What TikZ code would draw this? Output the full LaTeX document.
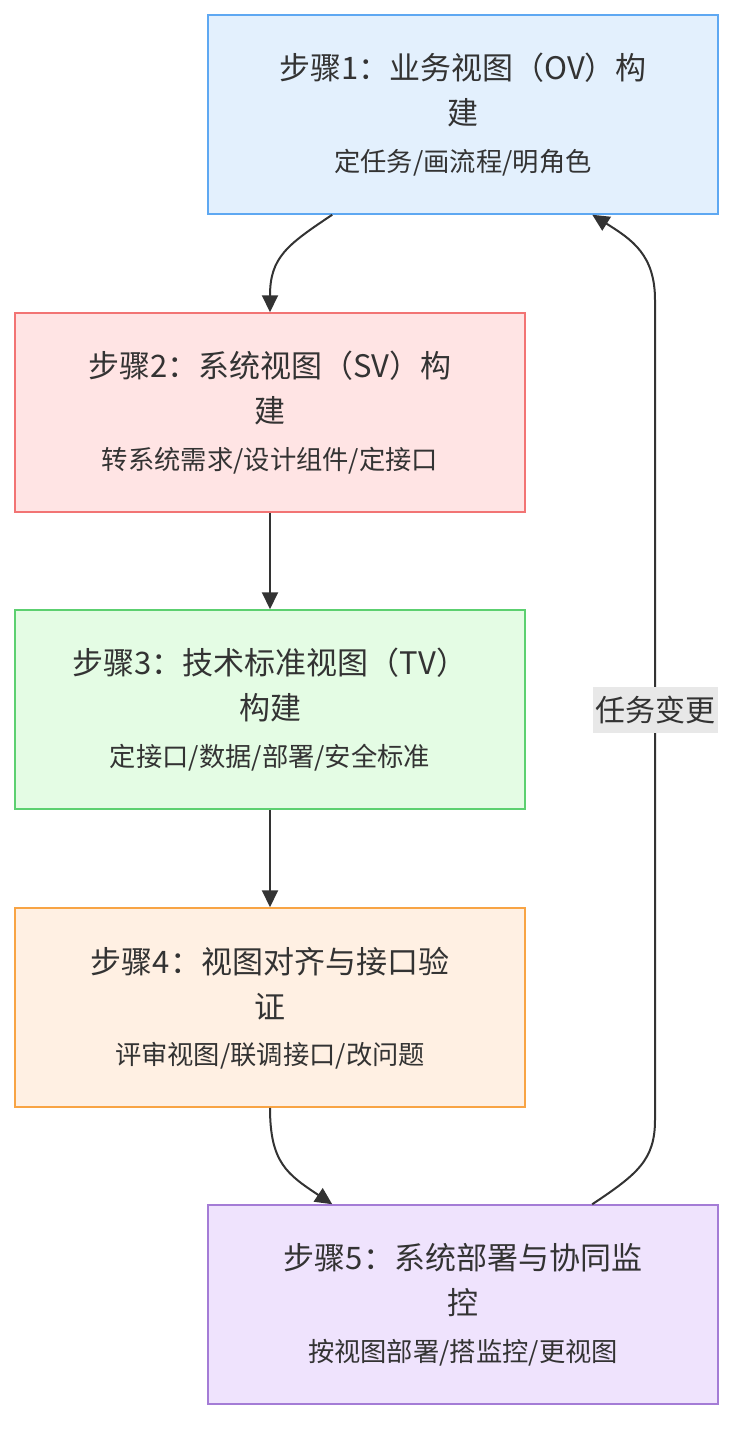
\documentclass[tikz,border=0pt]{standalone}
\usepackage{fontspec}
\setmainfont{Noto Sans CJK SC}
\usetikzlibrary{arrows.meta,calc}
\definecolor{txt}{HTML}{333333}
\definecolor{f1}{HTML}{E3F0FD}\definecolor{s1}{HTML}{5EA8F2}
\definecolor{f2}{HTML}{FFE4E4}\definecolor{s2}{HTML}{F27474}
\definecolor{f3}{HTML}{E4FCE4}\definecolor{s3}{HTML}{5CD070}
\definecolor{f4}{HTML}{FFF0E3}\definecolor{s4}{HTML}{F8A444}
\definecolor{f5}{HTML}{EFE3FD}\definecolor{s5}{HTML}{A47CD6}
\definecolor{lbl}{HTML}{E8E8E8}
\tikzset{
  stepbox/.style={draw, line width=1.5pt, minimum width=510pt, minimum height=199pt, inner sep=0pt},
  ttl/.style={text=txt, align=center, font=\fontsize{31}{45}\selectfont, inner sep=0pt},
  sub/.style={text=txt, align=center, font=\fontsize{26.3}{30}\selectfont, inner sep=0pt},
  conn/.style={draw=txt, line width=2pt, -{Triangle[length=17pt,width=16pt]}},
  elabel/.style={fill=lbl, text=txt, font=\fontsize{30}{30}\selectfont, inner sep=0pt, minimum width=125pt, minimum height=46pt}
}
\begin{document}
\begin{tikzpicture}[x=1pt,y=-1pt]
\useasboundingbox (0,0) rectangle (750,1452);
% boxes
\node[stepbox, fill=f1, draw=s1] (b1) at (463,114.5) {};
\node[stepbox, fill=f2, draw=s2] (b2) at (270,412.5) {};
\node[stepbox, fill=f3, draw=s3] (b3) at (270,709.5) {};
\node[stepbox, fill=f4, draw=s4] (b4) at (270,1007.5) {};
\node[stepbox, fill=f5, draw=s5] (b5) at (463,1304.5) {};
% texts
\node[ttl] (t1) at ($(b1.north)+(0,76)$) {步骤1：业务视图（OV）构\\建};
\node[sub] (u1) at ($(b1.north)+(0,148)$) {定任务/画流程/明角色};
\node[ttl] (t2) at ($(b2.north)+(0,76)$) {步骤2：系统视图（SV）构\\建};
\node[sub] (u2) at ($(b2.north)+(0,148)$) {转系统需求/设计组件/定接口};
\node[ttl] (t3) at ($(b3.north)+(0,76)$) {步骤3：技术标准视图（TV）\\构建};
\node[sub] (u3) at ($(b3.north)+(0,148)$) {定接口/数据/部署/安全标准};
\node[ttl] (t4) at ($(b4.north)+(0,76)$) {步骤4：视图对齐与接口验\\证};
\node[sub] (u4) at ($(b4.north)+(0,148)$) {评审视图/联调接口/改问题};
\node[ttl] (t5) at ($(b5.north)+(0,76)$) {步骤5：系统部署与协同监\\控};
\node[sub] (u5) at ($(b5.north)+(0,148)$) {按视图部署/搭监控/更视图};
% connectors
\coordinate (a1) at ($(b1.south west)+(125,0)$);
\draw[conn] (a1) .. controls ($(a1)+(-45,30)$) and ($(b2.north)+(0,-55)$) .. (b2.north);
\draw[conn] (b2.south) -- (b3.north);
\draw[conn] (b3.south) -- (b4.north);
\coordinate (a5) at ($(b5.north west)+(125,0)$);
\draw[conn] (b4.south) .. controls ($(b4.south)+(0,55)$) and ($(a5)+(-45,-30)$) .. (a5);
\coordinate (r5) at ($(b5.north west)+(385,0)$);
\coordinate (r1) at ($(b1.south west)+(385,0)$);
\coordinate (v1) at (655,1120);
\coordinate (v2) at (655,300);
\draw[conn] (r5) .. controls ($(r5)+(45,-30)$) and ($(v1)+(0,40)$) .. (v1) -- (v2) .. controls ($(v2)+(0,-45)$) and ($(r1)+(40,25)$) .. (r1);
\node[elabel] (lb) at (655,710) {任务变更};
\end{tikzpicture}
\end{document}
